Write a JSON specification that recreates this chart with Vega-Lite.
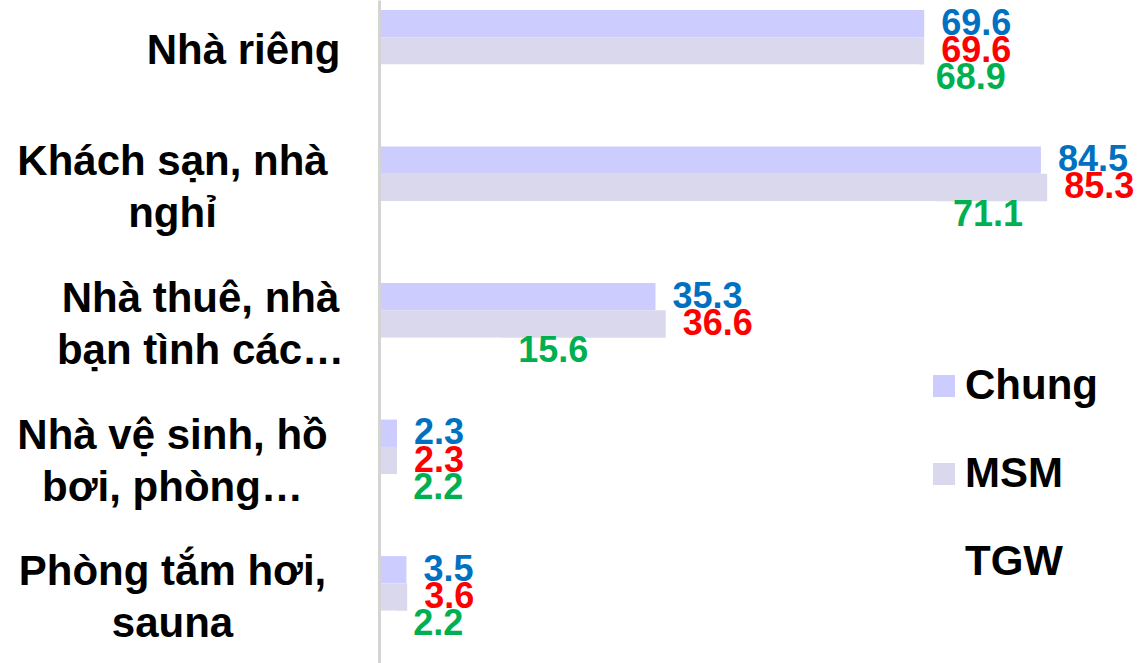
{
  "$schema": "https://vega.github.io/schema/vega-lite/v6.json",
  "width": 705,
  "height": 663,
  "autosize": "none",
  "padding": {"left": 379, "top": 0, "right": 62, "bottom": 0},
  "background": "white",
  "config": {"view": {"stroke": null}, "font": "Liberation Sans"},
  "data": {
    "values": [
      {"cat": "Nhà riêng", "series": "Chung", "value": 69.6},
      {"cat": "Nhà riêng", "series": "MSM", "value": 69.6},
      {"cat": "Nhà riêng", "series": "TGW", "value": 68.9},
      {"cat": "Khách sạn, nhà\nnghỉ", "series": "Chung", "value": 84.5},
      {"cat": "Khách sạn, nhà\nnghỉ", "series": "MSM", "value": 85.3},
      {"cat": "Khách sạn, nhà\nnghỉ", "series": "TGW", "value": 71.1},
      {"cat": "Nhà thuê, nhà\nbạn tình các…", "series": "Chung", "value": 35.3},
      {"cat": "Nhà thuê, nhà\nbạn tình các…", "series": "MSM", "value": 36.6},
      {"cat": "Nhà thuê, nhà\nbạn tình các…", "series": "TGW", "value": 15.6},
      {"cat": "Nhà vệ sinh, hồ\nbơi, phòng…", "series": "Chung", "value": 2.3},
      {"cat": "Nhà vệ sinh, hồ\nbơi, phòng…", "series": "MSM", "value": 2.3},
      {"cat": "Nhà vệ sinh, hồ\nbơi, phòng…", "series": "TGW", "value": 2.2},
      {"cat": "Phòng tắm hơi,\nsauna", "series": "Chung", "value": 3.5},
      {"cat": "Phòng tắm hơi,\nsauna", "series": "MSM", "value": 3.6},
      {"cat": "Phòng tắm hơi,\nsauna", "series": "TGW", "value": 2.2}
    ]
  },
  "encoding": {
    "y": {
      "field": "cat",
      "type": "nominal",
      "sort": null,
      "scale": {"paddingInner": 0.4, "paddingOuter": 0.128, "align": 0.286},
      "axis": {
        "title": null,
        "ticks": false,
        "zindex": 1,
        "domainColor": "#d4d4d4",
        "domainWidth": 3,
        "labelExpr": "split(datum.label, '\\n')",
        "labelFont": "Liberation Sans",
        "labelFontSize": 42,
        "labelFontWeight": "bold",
        "labelColor": "black",
        "labelLineHeight": 52,
        "labelAlign": "center",
        "labelBaseline": "middle",
        "labelLimit": 0,
        "labelOffset": {
          "condition": {"test": "indexof(datum.value, '\\n') >= 0", "value": -25},
          "value": 0
        },
        "labelPadding": {
          "condition": [
            {"test": "datum.value === 'Nhà riêng'", "value": 136},
            {"test": "indexof(datum.value, 'Nhà thuê') === 0", "value": 179}
          ],
          "value": 207
        }
      }
    },
    "yOffset": {
      "field": "series",
      "type": "nominal",
      "sort": ["Chung", "MSM", "TGW"],
      "scale": {"paddingInner": 0, "paddingOuter": 0}
    },
    "x": {
      "field": "value",
      "type": "quantitative",
      "scale": {"domain": [0, 90], "nice": false},
      "axis": null
    }
  },
  "layer": [
    {
      "mark": {"type": "bar"},
      "encoding": {
        "color": {
          "field": "series",
          "type": "nominal",
          "sort": ["Chung", "MSM", "TGW"],
          "scale": {"domain": ["Chung", "MSM", "TGW"], "range": ["#CCCCFF", "#DAD8EC", "#FFFFFF"]},
          "legend": {
            "title": null,
            "orient": "none",
            "legendX": 544,
            "legendY": 365,
            "symbolType": "square",
            "symbolSize": 484,
            "symbolStrokeWidth": 0,
            "labelFont": "Liberation Sans",
            "labelFontSize": 42,
            "labelFontWeight": "bold",
            "labelColor": "black",
            "labelOffset": 0,
            "rowPadding": 46,
            "padding": 0
          }
        }
      }
    },
    {
      "mark": {
        "type": "text",
        "align": "left",
        "baseline": "middle",
        "dx": 17,
        "font": "Liberation Sans",
        "fontSize": 36,
        "fontWeight": "bold"
      },
      "encoding": {
        "text": {"field": "value", "type": "quantitative", "format": ".1f"},
        "color": {
          "condition": [
            {"test": "datum.series === 'Chung'", "value": "#0070C0"},
            {"test": "datum.series === 'MSM'", "value": "#FF0000"}
          ],
          "value": "#00B050"
        }
      }
    }
  ]
}
